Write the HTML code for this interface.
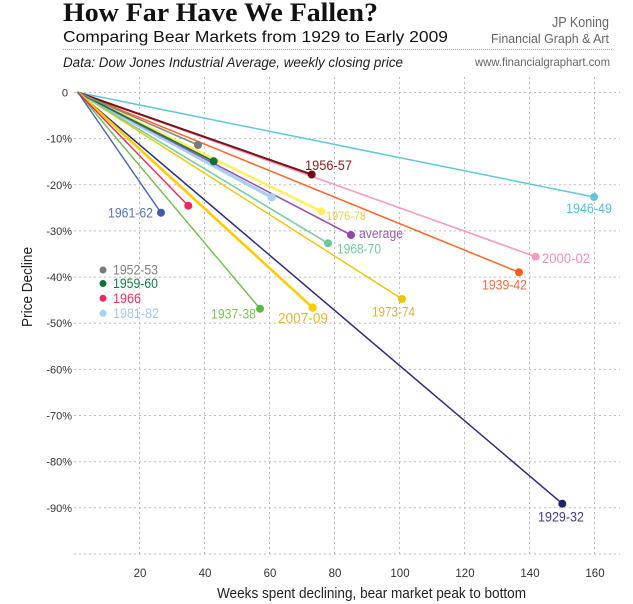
<!DOCTYPE html>
<html>
<head>
<meta charset="utf-8">
<style>
html,body{margin:0;padding:0;background:#fff;}
svg{display:block;}
text{font-family:"Liberation Sans",sans-serif;}
</style>
</head>
<body>
<svg width="633" height="604" viewBox="0 0 633 604" xmlns="http://www.w3.org/2000/svg">
<rect width="633" height="604" fill="#fff"/>

<!-- Header -->
<text x="63" y="21" font-family="Liberation Serif, serif" font-weight="bold" font-size="26" fill="#111" textLength="315" lengthAdjust="spacingAndGlyphs" style="font-family:'Liberation Serif',serif">How Far Have We Fallen?</text>
<text x="63" y="42" font-size="15.5" fill="#111" textLength="385" lengthAdjust="spacingAndGlyphs">Comparing Bear Markets from 1929 to Early 2009</text>
<line x1="63" y1="49.5" x2="613" y2="49.5" stroke="#aaa" stroke-width="1" stroke-dasharray="1,1"/>
<text x="63" y="67" font-size="13.5" font-style="italic" fill="#222" textLength="340" lengthAdjust="spacingAndGlyphs">Data: Dow Jones Industrial Average, weekly closing price</text>
<text x="609" y="27" font-size="14.5" fill="#666" text-anchor="end" textLength="57" lengthAdjust="spacingAndGlyphs">JP Koning</text>
<text x="609" y="43" font-size="13" fill="#666" text-anchor="end" textLength="118" lengthAdjust="spacingAndGlyphs">Financial Graph &amp; Art</text>
<text x="610" y="66" font-size="12" fill="#666" text-anchor="end" textLength="135" lengthAdjust="spacingAndGlyphs">www.financialgraphart.com</text>

<!-- Grid -->
<g stroke="#bbb" stroke-width="1" stroke-dasharray="2,3" fill="none">
<line x1="74" y1="92.5" x2="620" y2="92.5"/>
<line x1="74" y1="138.6" x2="620" y2="138.6"/>
<line x1="74" y1="184.8" x2="620" y2="184.8"/>
<line x1="74" y1="230.9" x2="620" y2="230.9"/>
<line x1="74" y1="277.1" x2="620" y2="277.1"/>
<line x1="74" y1="323.2" x2="620" y2="323.2"/>
<line x1="74" y1="369.4" x2="620" y2="369.4"/>
<line x1="74" y1="415.5" x2="620" y2="415.5"/>
<line x1="74" y1="461.7" x2="620" y2="461.7"/>
<line x1="74" y1="507.8" x2="620" y2="507.8"/>
<line x1="74" y1="554" x2="620" y2="554"/>
<line x1="139.5" y1="77" x2="139.5" y2="556"/>
<line x1="204.5" y1="77" x2="204.5" y2="556"/>
<line x1="269.5" y1="77" x2="269.5" y2="556"/>
<line x1="334.5" y1="77" x2="334.5" y2="556"/>
<line x1="399.5" y1="77" x2="399.5" y2="556"/>
<line x1="464.5" y1="77" x2="464.5" y2="556"/>
<line x1="529.5" y1="77" x2="529.5" y2="556"/>
<line x1="594.5" y1="77" x2="594.5" y2="556"/>
</g>

<!-- Y tick labels -->
<g font-size="11" fill="#333" text-anchor="end">
<text x="68" y="96.5">0</text>
<text x="72" y="142.6">-10%</text>
<text x="72" y="188.8">-20%</text>
<text x="72" y="234.9">-30%</text>
<text x="72" y="281.1">-40%</text>
<text x="72" y="327.2">-50%</text>
<text x="72" y="373.4">-60%</text>
<text x="72" y="419.5">-70%</text>
<text x="72" y="465.7">-80%</text>
<text x="72" y="511.8">-90%</text>
</g>

<!-- X tick labels -->
<g font-size="11.5" fill="#333" text-anchor="middle">
<text x="140" y="577">20</text>
<text x="205" y="577">40</text>
<text x="270" y="577">60</text>
<text x="335" y="577">80</text>
<text x="400" y="577">100</text>
<text x="465" y="577">120</text>
<text x="530" y="577">140</text>
<text x="595" y="577">160</text>
</g>

<text x="371.5" y="598" font-size="14.5" fill="#222" text-anchor="middle" textLength="309" lengthAdjust="spacingAndGlyphs">Weeks spent declining, bear market peak to bottom</text>
<text transform="translate(32,287) rotate(-90)" font-size="15" fill="#222" text-anchor="middle" textLength="80" lengthAdjust="spacingAndGlyphs">Price Decline</text>

<!-- Series lines -->
<g fill="none" stroke-linecap="round">
<line x1="78" y1="92.5" x2="271.7" y2="197.3" stroke="#a6d0f0" stroke-width="3.2"/>
<line x1="78" y1="92.5" x2="321.3" y2="211.3" stroke="#fff060" stroke-width="2.6"/>
<line x1="78" y1="92.5" x2="594" y2="197" stroke="#5ec8da" stroke-width="1.5"/>
<line x1="78" y1="92.5" x2="535.7" y2="256.7" stroke="#f799c4" stroke-width="1.6"/>
<line x1="78" y1="92.5" x2="519" y2="272.3" stroke="#ff6424" stroke-width="1.5"/>
<line x1="78" y1="92.5" x2="311.7" y2="174.5" stroke="#7a1418" stroke-width="2"/>
<line x1="78" y1="92.5" x2="402" y2="299" stroke="#e8c800" stroke-width="1.4"/>
<line x1="78" y1="92.5" x2="351" y2="235" stroke="#9b55b0" stroke-width="1.6"/>
<line x1="78" y1="92.5" x2="328" y2="243.3" stroke="#78d0a0" stroke-width="1.6"/>
<line x1="78" y1="92.5" x2="213.7" y2="161.3" stroke="#107a3a" stroke-width="1.6"/>
<line x1="78" y1="92.5" x2="198" y2="145" stroke="#888" stroke-width="1.6"/>
<line x1="78" y1="92.5" x2="562.3" y2="503.7" stroke="#2c2c82" stroke-width="1.5"/>
<line x1="78" y1="92.5" x2="312.7" y2="307.7" stroke="#ffcc00" stroke-width="2.6"/>
<line x1="78" y1="92.5" x2="260" y2="308.7" stroke="#6cc048" stroke-width="1.4"/>
<line x1="78" y1="92.5" x2="188.3" y2="205.7" stroke="#f0285a" stroke-width="1.4"/>
<line x1="78" y1="92.5" x2="161" y2="212.7" stroke="#4a66b4" stroke-width="1.4"/>
</g>

<!-- Dots -->
<g>
<circle cx="271.7" cy="197.3" r="4.2" fill="#a6d0f0"/>
<circle cx="321.3" cy="211.3" r="4" fill="#fff060"/>
<circle cx="594" cy="197" r="4" fill="#5ec8da"/>
<circle cx="535.7" cy="256.7" r="4" fill="#f799c4"/>
<circle cx="519" cy="272.3" r="4" fill="#ff5a1a"/>
<circle cx="311.7" cy="174.5" r="4" fill="#6a0c10"/>
<circle cx="402" cy="299" r="4" fill="#e8c800"/>
<circle cx="351" cy="235" r="4" fill="#8e4aa6"/>
<circle cx="328" cy="243.3" r="4" fill="#6cc896"/>
<circle cx="213.7" cy="161.3" r="4" fill="#0e7036"/>
<circle cx="198" cy="145" r="4" fill="#7a7a7a"/>
<circle cx="562.3" cy="503.7" r="4" fill="#22226e"/>
<circle cx="312.7" cy="307.7" r="4.2" fill="#ffcc00"/>
<circle cx="260" cy="308.7" r="4" fill="#5cb83c"/>
<circle cx="188.3" cy="205.7" r="4" fill="#f0285a"/>
<circle cx="161" cy="212.7" r="4" fill="#3e5aa8"/>
</g>

<!-- Data labels -->
<g font-size="13.5">
<text x="305" y="170" fill="#8a1c1c" textLength="47" lengthAdjust="spacingAndGlyphs">1956-57</text>
<text x="566" y="213" fill="#4ec3d3" textLength="46" lengthAdjust="spacingAndGlyphs">1946-49</text>
<text x="326" y="220" fill="#eed040" font-size="12" textLength="40" lengthAdjust="spacingAndGlyphs">1976-78</text>
<text x="359" y="238" fill="#9a5ab0" textLength="44" lengthAdjust="spacingAndGlyphs">average</text>
<text x="337" y="253.5" fill="#72cc9c" textLength="44" lengthAdjust="spacingAndGlyphs">1968-70</text>
<text x="542" y="263" fill="#f08cbc" textLength="48" lengthAdjust="spacingAndGlyphs">2000-02</text>
<text x="482" y="289.5" fill="#f46a3c" textLength="45" lengthAdjust="spacingAndGlyphs">1939-42</text>
<text x="372" y="316.5" fill="#d8b636" textLength="43" lengthAdjust="spacingAndGlyphs">1973-74</text>
<text x="278" y="323" fill="#e2b838" font-size="15" textLength="50" lengthAdjust="spacingAndGlyphs">2007-09</text>
<text x="211" y="318.5" fill="#7cc454" textLength="45" lengthAdjust="spacingAndGlyphs">1937-38</text>
<text x="108" y="217.5" fill="#5a72b8" textLength="45" lengthAdjust="spacingAndGlyphs">1961-62</text>
<text x="538" y="521.5" fill="#3c3c8c" textLength="46" lengthAdjust="spacingAndGlyphs">1929-32</text>
</g>

<!-- Legend -->
<g font-size="13.5">
<circle cx="103" cy="270" r="3.5" fill="#7a7a7a"/>
<text x="113" y="274.5" fill="#808080" textLength="45" lengthAdjust="spacingAndGlyphs">1952-53</text>
<circle cx="103" cy="283.5" r="3.5" fill="#0e7036"/>
<text x="113" y="288" fill="#108040" textLength="45" lengthAdjust="spacingAndGlyphs">1959-60</text>
<circle cx="103" cy="298.3" r="3.5" fill="#f0285a"/>
<text x="113" y="302.8" fill="#f03060" textLength="28" lengthAdjust="spacingAndGlyphs">1966</text>
<circle cx="103" cy="313.3" r="3.5" fill="#a6d0f0"/>
<text x="113" y="317.8" fill="#a0c8e8" textLength="46" lengthAdjust="spacingAndGlyphs">1981-82</text>
</g>
</svg>
</body>
</html>
